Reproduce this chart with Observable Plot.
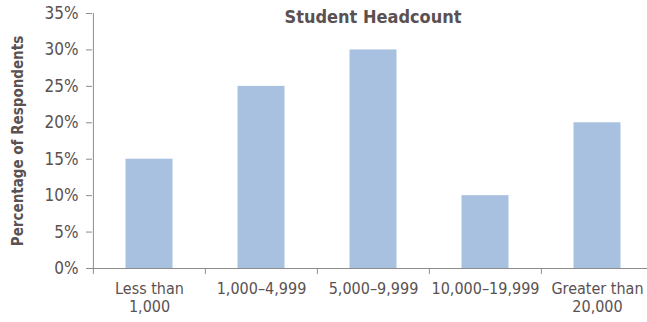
<!DOCTYPE html>
<html>
<head>
<meta charset="utf-8">
<script src="https://cdn.jsdelivr.net/npm/d3@7"></script>
<script src="https://cdn.jsdelivr.net/npm/@observablehq/plot@0.6"></script>
<style>
  html, body { margin: 0; padding: 0; background: #fff; }
  svg { display: block; }
</style>
</head>
<body>
<div id="chart"></div>
<script>
const categories = ["Less than\n1,000", "1,000–4,999", "5,000–9,999", "10,000–19,999", "Greater than\n20,000"];
const values = [0.15, 0.25, 0.30, 0.10, 0.20];
const yTicks = [0, 0.05, 0.10, 0.15, 0.20, 0.25, 0.30, 0.35];
const title = "Student Headcount";
const yLabel = "Percentage of Respondents";

const data = categories.map((c, i) => ({category: c, value: values[i]}));

const font = "'Liberation Sans Narrow', 'DejaVu Sans Condensed', 'Arial Narrow', sans-serif";
const textColor = "#5b5151";
const axisColor = "#8c8c8c";

const W = 647, H = 322;
const mL = 92, mT = 13, mB = 54, mR = -6;
const bandW = (W - mR - mL) / categories.length;

const chart = Plot.plot({
  width: W,
  height: H,
  marginLeft: mL,
  marginTop: mT,
  marginBottom: mB,
  marginRight: mR,
  style: {fontFamily: font, color: textColor, background: "#fff", overflow: "visible"},
  x: {type: "band", domain: categories, padding: 0, align: 0.5},
  y: {domain: [0, 0.35]},
  marks: [
    Plot.barY(data, {x: "category", y: "value", fill: "#a9c1e1", insetLeft: 32.5, insetRight: 32.5}),
    // y axis
    Plot.axisY({ticks: yTicks, tickFormat: d3.format(".0%"), tickSize: 6, tickPadding: 8, stroke: axisColor, fill: textColor, fontSize: 17, label: null}),
    Plot.ruleX([categories[0]], {x: d => d, dx: -bandW / 2, y1: 0, y2: 0.35, stroke: axisColor}),
    // x axis baseline
    Plot.ruleY([0], {stroke: axisColor}),
    // tick marks at band boundaries
    Plot.ruleX(categories, {x: d => d, y1: 0, y2: 0, dx: -bandW / 2, insetBottom: -6, stroke: axisColor}),
    // x labels
    Plot.axisX({tickSize: 0, tickPadding: 13, fill: textColor, fontSize: 16, label: null, lineHeight: 1.1}),
    // y label
    Plot.text([yLabel], {frameAnchor: "left", textAnchor: "middle", rotate: -90, dx: -74, fontWeight: "bold", fontSize: 15, fill: textColor}),
    // title
    Plot.text([title], {frameAnchor: "top", lineAnchor: "top", dy: -3, fontWeight: "bold", fontSize: 18, fill: textColor})
  ]
});
document.getElementById("chart").appendChild(chart);
</script>
</body>
</html>
